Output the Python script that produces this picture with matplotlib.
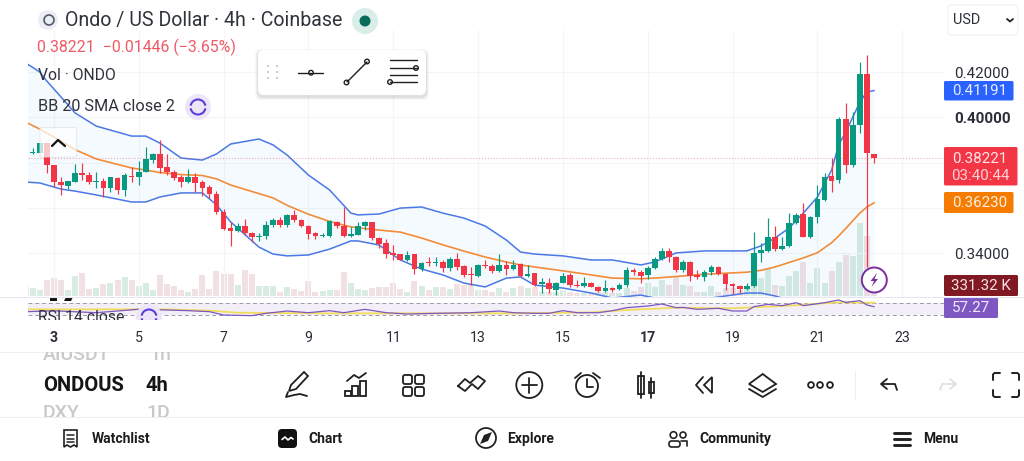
import numpy as np
import matplotlib
matplotlib.use("Agg")
import matplotlib.pyplot as plt
from matplotlib.patches import Circle, Rectangle, FancyBboxPatch, Polygon, Arc

plt.rcParams['font.family'] = ['Roboto', 'DejaVu Sans']

# candle data, 4h bars
opens = [.3915,.3842,.3845,.3886,.3789,.3715,.3699,.3714,.3756,.3748,
         .3717,.3720,.3690,.3731,.3680,.3742,.3736,.3761,.3812,.3837,
         .3780,.3761,.3736,.3714,.3739,.3714,.3692,.3664,.3584,.3511,
         .3497,.3522,.3492,.3474,.3477,.3524,.3547,.3524,.3571,.3546,
         .3520,.3489,.3477,.3477,.3540,.3521,.3475,.3481,.3522,.3537,
         .3467,.3444,.3400,.3397,.3369,.3396,.3330,.3362,.3356,.3361,
         .3336,.3375,.3343,.3308,.3302,.3349,.3344,.3322,.3349,.3331,
         .3352,.3300,.3312,.3266,.3271,.3238,.3271,.3305,.3260,.3258,
         .3268,.3253,.3234,.3247,.3243,.3260,.3327,.3319,.3303,.3336,
         .3377,.3412,.3384,.3327,.3363,.3306,.3294,.3316,.3341,.3309,
         .3265,.3256,.3244,.3258,.3403,.3412,.3472,.3418,.3431,.3534,
         .3572,.3472,.3559,.3636,.3742,.3723,.3993,.3790,.3968,.4194,.3840]
closes = [.3845,.3848,.3889,.3790,.3714,.3701,.3718,.3754,.3746,.3714,
          .3720,.3690,.3736,.3680,.3746,.3736,.3761,.3815,.3837,.3776,
          .3758,.3734,.3714,.3736,.3712,.3689,.3664,.3584,.3506,.3497,
          .3522,.3489,.3471,.3478,.3525,.3547,.3524,.3570,.3547,.3520,
          .3487,.3478,.3481,.3543,.3521,.3477,.3484,.3522,.3537,.3467,
          .3442,.3397,.3394,.3372,.3394,.3330,.3358,.3359,.3361,.3336,
          .3375,.3341,.3303,.3305,.3347,.3344,.3322,.3350,.3331,.3350,
          .3299,.3308,.3262,.3272,.3243,.3269,.3302,.3259,.3258,.3268,
          .3253,.3235,.3247,.3240,.3259,.3325,.3318,.3302,.3336,.3377,
          .3412,.3384,.3327,.3363,.3300,.3294,.3316,.3340,.3308,.3265,
          .3258,.3244,.3258,.3400,.3414,.3472,.3418,.3433,.3534,.3571,
          .3474,.3559,.3640,.3739,.3718,.3993,.3790,.3967,.4191,.3842,.3821]
highs = [.3915,.3864,.3889,.3886,.3789,.3736,.3718,.3793,.3801,.3761,
         .3758,.3731,.3739,.3736,.3754,.3783,.3809,.3871,.3845,.3901,
         .3837,.3768,.3746,.3771,.3754,.3724,.3702,.3676,.3595,.3540,
         .3533,.3552,.3496,.3489,.3543,.3555,.3559,.3574,.3592,.3553,
         .3525,.3496,.3492,.3547,.3545,.3606,.3518,.3537,.3545,.3540,
         .3474,.3462,.3437,.3397,.3412,.3397,.3364,.3383,.3386,.3371,
         .3386,.3403,.3349,.3338,.3353,.3371,.3353,.3397,.3366,.3371,
         .3356,.3349,.3315,.3293,.3290,.3275,.3312,.3312,.3283,.3294,
         .3275,.3258,.3283,.3253,.3268,.3339,.3334,.3327,.3344,.3383,
         .3422,.3422,.3389,.3371,.3368,.3327,.3327,.3349,.3344,.3312,
         .3268,.3259,.3268,.3494,.3444,.3555,.3521,.3474,.3577,.3577,
         .3624,.3565,.3702,.3753,.3820,.4001,.4063,.4026,.4247,.4276,.3840]
lows = [.3845,.3837,.3845,.3754,.3695,.3659,.3683,.3714,.3724,.3706,
        .3687,.3651,.3673,.3662,.3653,.3717,.3702,.3761,.3798,.3756,
        .3746,.3724,.3695,.3709,.3673,.3653,.3643,.3574,.3503,.3433,
        .3494,.3481,.3452,.3456,.3462,.3515,.3518,.3518,.3540,.3515,
        .3462,.3462,.3471,.3474,.3511,.3471,.3471,.3481,.3503,.3459,
        .3422,.3378,.3371,.3371,.3366,.3309,.3324,.3344,.3344,.3319,
        .3324,.3327,.3297,.3260,.3297,.3334,.3315,.3319,.3305,.3327,
        .3294,.3294,.3258,.3227,.3224,.3216,.3268,.3253,.3253,.3253,
        .3250,.3231,.3231,.3231,.3238,.3253,.3305,.3268,.3286,.3330,
        .3371,.3363,.3319,.3319,.3280,.3288,.3280,.3305,.3303,.3238,
        .3221,.3224,.3238,.3253,.3363,.3408,.3412,.3415,.3427,.3530,
        .3471,.3468,.3533,.3633,.3673,.3712,.3753,.3783,.3930,.3341,.3801]
# volume in thousands
volumes = [286,254,180,519,583,498,201,625,742,233,
           265,392,424,498,604,498,318,424,180,657,
           371,318,201,117,212,657,233,784,689,710,
           360,837,710,318,318,307,127,286,233,148,
           477,127,148,201,201,753,403,212,191,265,
           297,297,403,212,138,488,318,191,276,276,
           212,382,350,350,191,191,138,244,138,244,
           318,244,276,138,138,138,191,138,85,85,
           85,138,138,106,106,244,170,297,403,297,
           509,350,594,350,318,138,138,318,138,244,
           244,191,244,318,562,880,350,318,636,806,
           1092,403,901,424,806,1092,1304,1272,2332,1908,331]

# bollinger bands at some of the bars
band_idx = [0,2,3,5,7,10,15,17,19,22,25,27,29,33,35,37,40,43,46,47,50,53,56,59,
            62,65,68,70,72,76,80,83,87,89,92,96,102,104,106,108,110,112,114,115,116,118,119,120]
bb_upper = [.4241,.4201,.4161,.4091,.4020,.3962,.3918,.3918,.3887,.3821,.3812,.3839,
            .3883,.3905,.3879,.3834,.3746,.3680,.3578,.3570,.3574,.3600,.3605,.3578,
            .3556,.3521,.3459,.3406,.3397,.3389,.3371,.3371,.3349,.3362,.3402,.3411,
            .3411,.3433,.3468,.3512,.3578,.3649,.3768,.3879,.3936,.4068,.4113,.4119]
bb_basis = [.3980,.3949,.3931,.3896,.3858,.3817,.3777,.3768,.3757,.3748,.3744,.3729,
            .3702,.3664,.3645,.3612,.3573,.3541,.3517,.3513,.3503,.3494,.3468,.3438,
            .3410,.3384,.3362,.3349,.3340,.3323,.3305,.3291,.3288,.3291,.3298,.3308,
            .3317,.3325,.3340,.3360,.3380,.3403,.3447,.3477,.3510,.3578,.3605,.3623]
bb_lower = [.3715,.3711,.3702,.3684,.3675,.3658,.3627,.3627,.3649,.3667,.3667,.3614,
            .3539,.3428,.3397,.3389,.3393,.3419,.3455,.3455,.3437,.3371,.3331,.3305,
            .3269,.3252,.3291,.3296,.3260,.3247,.3225,.3203,.3216,.3203,.3194,.3199,
            .3225,.3225,.3212,.3194,.3177,.3157,.3126,.3075,.3084,.3088,.3097,.3127]

rsi_idx = [0,4,10,16,20,23,26,28,32,34,37,40,43,45,48,51,54,58,63,67,69,72,74,76,78,81,
           83,85,88,90,92,93,95,98,100,102,103,105,107,109,110,113,115,116,118,119,120]
rsi_vals = [41.3,44,38,49,46.6,44.5,41.3,30.6,28.5,36,43.4,38,44.5,38,48.7,38,33.8,36,38,43.4,38,36,36,
            44.5,38,38,44.5,54,59.4,65.8,54,55,48.7,52,43.4,43.4,57.3,64.7,60.5,70,60.5,70,78.6,71.1,76.5,62.6,57.27]
rsi_ma_idx = [0,20,26,30,42,58,69,80,85,92,100,108,115,120]
rsi_ma_vals = [48.7,48.7,44.5,38,36,36,36,39,46.6,54,52,60.5,71.1,70]

price_ticks = [0.34, 0.36, 0.38, 0.40, 0.42]
price_labels = ['0.34000', '', '', '0.40000', '0.42000']
day_tick_idx = [4, 16, 28, 40, 52, 64, 76, 88, 100, 112, 124]
day_labels = ['3', '5', '7', '9', '11', '13', '15', '17', '19', '21', '23']

GREEN = '#089981'
RED = '#f23645'
BLUE = '#4a78e6'
ORANGE = '#f28c38'
INK = '#2a2e39'

W, H = 1024, 461
fig = plt.figure(figsize=(W / 100, H / 100), dpi=100, facecolor='white')


def rect(x0, y0, x1, y1):
    # pixel box (y down) to figure fractions
    return [x0 / W, 1 - y1 / H, (x1 - x0) / W, (y1 - y0) / H]


# price pane
ax = fig.add_axes(rect(28, 30, 945, 297))
vol = ax.twinx()
ax.set_zorder(vol.get_zorder() + 1)
ax.patch.set_visible(False)

idx = np.arange(len(opens))
o, c = np.array(opens), np.array(closes)
colors = np.where(c >= o, GREEN, RED)

vol.bar(idx, volumes, width=0.85, color=np.where(c >= o, '#c9e4d6', '#edd5d7'), alpha=0.7)
vol.set_ylim(-32, 8459)
vol.set_yticks([])

ax.fill_between(band_idx, bb_lower, bb_upper, color='#2196f3', alpha=0.045, lw=0)
ax.plot(band_idx, bb_upper, color=BLUE, lw=1.1)
ax.plot(band_idx, bb_lower, color=BLUE, lw=1.1)
ax.plot(band_idx, bb_basis, color=ORANGE, lw=1.2)
ax.axhline(0.38221, color=RED, lw=0.8, ls=':', alpha=0.4)

ax.vlines(idx, lows, highs, colors=colors, lw=0.85, zorder=3)
ax.bar(idx, np.maximum(np.abs(c - o), 0.0003), bottom=np.minimum(o, c), width=0.8,
       color=colors, lw=0, zorder=4)

ax.set_xlim(0.34, 130.04)
ax.set_ylim(0.32075, 0.43863)
ax.set_xticks(day_tick_idx)
ax.set_xticklabels([])
ax.yaxis.tick_right()
ax.set_yticks(price_ticks)
ax.set_yticklabels(price_labels, fontsize=10.9, color=INK)
ax.get_yticklabels()[3].set_fontweight('bold')
ax.tick_params(length=0, pad=6.5)
ax.grid(True, color='#f5f5f7', lw=0.8)
ax.set_axisbelow(True)
for a in (ax, vol):
    for s in a.spines.values():
        s.set_visible(False)

# rsi pane, 70 sits at y=302.7 and 30 at y=315, 0.3125 px per point
rsi = fig.add_axes(rect(28, 297, 945, 322))
rsi.set_xlim(0.34, 130.04)
rsi.set_ylim(70 - (322 - 302.7) / 0.3125, 70 + (302.7 - 297) / 0.3125)
rsi.axhspan(30, 70, color='#7e57c2', alpha=0.09, lw=0)
rsi.axhline(70, color='#9a9aa8', lw=0.7, ls=(0, (4, 3)))
rsi.axhline(30, color='#9a9aa8', lw=0.7, ls=(0, (4, 3)))
rsi.plot(rsi_ma_idx, rsi_ma_vals, color='#f2dc5d', lw=1.3)
rsi.plot(rsi_idx, rsi_vals, color='#7e57c2', lw=0.9)
rsi.set_xticks(day_tick_idx)
rsi.set_xticklabels(day_labels, fontsize=10.2, color=INK)
for i in (0, 7):
    rsi.get_xticklabels()[i].set_fontweight('bold')
rsi.set_yticks([])
rsi.tick_params(length=0, pad=6.5)
rsi.patch.set_visible(False)
for s in rsi.spines.values():
    s.set_visible(False)

# everything that is app chrome goes on a pixel overlay
ui = fig.add_axes([0, 0, 1, 1], zorder=10)
ui.set_xlim(0, W)
ui.set_ylim(H, 0)
ui.axis('off')


def line(xs, ys, color='#1f1f1f', lw=1.3, **kw):
    ui.plot(xs, ys, color=color, lw=lw, solid_capstyle='round', **kw)


def ring(x, y, r, ec='#1f1f1f', fc='white', lw=1.3):
    ui.add_patch(Circle((x, y), r, ec=ec, fc=fc, lw=lw))


def box(x0, y0, x1, y1, fc, ec='none', pad=2, lw=0.8, **kw):
    ui.add_patch(FancyBboxPatch((x0 + pad, y0 + pad), x1 - x0 - 2 * pad, y1 - y0 - 2 * pad,
                                boxstyle=f'round,pad={pad}', fc=fc, ec=ec, lw=lw, **kw))


def sync_icon(x, y, col='#5b3fd6', clip=None):
    bg = Circle((x, y), 13, fc='#ece6f8', ec='none')
    ui.add_patch(bg)
    a1 = Arc((x, y), 15, 15, theta1=190, theta2=350, color=col, lw=1.5)
    a2 = Arc((x, y), 15, 15, theta1=10, theta2=170, color=col, lw=1.5)
    ui.add_patch(a1)
    ui.add_patch(a2)
    if clip is not None:
        for p in (bg, a1, a2):
            p.set_clip_path(clip)


def clipped_text(x, y, s, x_max, box_y0, box_y1, **kw):
    t = ui.text(x, y, s, va='center', clip_on=True, **kw)
    t.set_clip_path(Rectangle((0, box_y0), x_max, box_y1 - box_y0, transform=ui.transData))
    return t


# header
ring(48, 20, 10, ec='none', fc='#eceef5')
ring(49, 20, 5, ec='#555a66', fc='none', lw=1.2)
ui.text(65, 20.5, 'Ondo / US Dollar · 4h · Coinbase', fontsize=14.1, color='#30333b', va='center')
ring(365, 21, 13, ec='none', fc='#d9eee9')
ring(365, 21, 5.5, ec='none', fc='#0b6b5b')
ui.text(37, 47.5, '0.38221  −0.01446 (−3.65%)', fontsize=11.4, color='#ef5a66', va='center')
ui.text(38, 75, 'Vol · ONDO', fontsize=11.3, color='#2f3239', va='center')
ui.text(38, 106.5, 'BB 20 SMA close 2', fontsize=11.7, color='#2f3239', va='center')
sync_icon(198, 107)

# floating drawing toolbar with a soft shadow
for grow, shade in ((3, 0.03), (2, 0.04), (1, 0.05)):
    box(258 - grow, 50 - grow + 2, 426 + grow, 95 + grow + 2, 'black', pad=6, alpha=shade)
box(258, 50, 426, 95, 'white', pad=6)
for dx in (268, 277):
    for dy in (66, 72, 78):
        ring(dx, dy, 1.1, ec='none', fc='#c9c9ce')
line([298, 323], [72.7, 72.7], lw=1.0)
ring(311, 72.7, 2.3, lw=1.0)
line([347, 367], [82, 62], lw=1.0)
ring(346.5, 82.5, 2.3, lw=1.0)
ring(367, 61.5, 2.3, lw=1.0)
for ly in (60.5, 68, 75, 82):
    line([390, 417], [ly, ly], lw=1.0)
ring(416, 68, 2.3, lw=1.0)
ring(390, 82, 2.3, lw=1.0)

# collapse button over the candles
box(40, 127.5, 76.5, 157, 'white', ec='#e4e4e8', pad=1, alpha=0.72)
line([52, 58, 65], [146, 140, 146], color='#111111', lw=1.6)

# USD selector
box(948, 5, 1018, 35, 'white', ec='#f0f0f2', pad=4)
ui.text(952.5, 19.5, 'USD', fontsize=10.4, color=INK, va='center')
line([1007, 1010, 1013], [19, 21.5, 19], color='#222222', lw=1.3)

# price labels on the axis
box(944, 81, 1013.5, 100.5, '#2962ff', pad=1.5)
ui.text(980, 91, '0.41191', fontsize=10.9, color='#e6ecff', ha='center', va='center')
box(944, 147, 1017.5, 185.5, '#f23645', pad=1.5)
ui.text(980, 158.5, '0.38221', fontsize=10.9, color='#ffe6e8', ha='center', va='center')
ui.text(980, 175.5, '03:40:44', fontsize=10.9, color='#ffd0d4', ha='center', va='center')
box(944, 192, 1013.5, 213, '#f57c00', pad=1.5)
ui.text(980, 203, '0.36230', fontsize=10.9, color='#fff0e0', ha='center', va='center')
box(944, 275, 1018, 296, '#801922', pad=1.5)
ui.text(981, 286, '331.32 K', fontsize=10.9, color='#f5e3e4', ha='center', va='center')
box(944, 297.5, 998, 318, '#7e57c2', pad=1.5)
ui.text(971, 308, '57.27', fontsize=10.9, color='#f0ebfa', ha='center', va='center')

# lightning badge
ring(874.3, 280, 12.5, ec='#7b2d9e', fc='white', lw=1.4)
ui.add_patch(Polygon([(877, 273), (870.5, 281), (874, 281), (871.5, 287), (878, 279), (874.5, 279)],
                     fc='#7b2d9e', ec='none'))

# cut off legend row of the rsi pane
ui.add_patch(Rectangle((50, 297), 7, 4, fc='#111111', ec='none'))
ui.add_patch(Polygon([(66, 297), (73, 297), (71, 301), (64, 301)], fc='#111111', ec='none'))
clip_rsi = Rectangle((0, 297), W, 23, transform=ui.transData)
clipped_text(38, 317, 'RSI 14 close', W, 297, 320, fontsize=11.3, color='#2f3239')
sync_icon(149, 317, clip=clip_rsi)

# separators
line([0, W], [296.8, 296.8], color='#e8e6f0', lw=0.8)
line([0, W], [352, 352], color='#efefef', lw=0.8)
line([0, W], [416.8, 416.8], color='#efefef', lw=0.8)
line([855, 855], [371, 400], color='#efefef', lw=0.8)

# symbol and interval pickers
clipped_text(43, 355, 'AIUSDT', W, 352, 363, fontsize=14, color='#c9c9cc', fontweight='medium')
clipped_text(149, 355, '1h', W, 352, 363, fontsize=14, color='#c9c9cc', fontweight='medium')
clipped_text(43, 385, 'ONDOUS', 125, 360, 410, fontsize=14.5, color='#151515', fontweight='bold')
ui.text(146, 385, '4h', fontsize=14.5, color='#151515', fontweight='bold', va='center')
clipped_text(43, 413, 'DXY', W, 403, 417, fontsize=14, color='#c9c9cc', fontweight='medium')
clipped_text(146, 413, '1D', W, 403, 417, fontsize=14, color='#c9c9cc', fontweight='medium')

# bottom toolbar icons, left to right
ui.add_patch(Polygon([(304, 372), (308, 376), (296, 389), (289, 391), (291, 385)], fc='white', ec='#1f1f1f', lw=1.3))
line([288, 286, 294, 300, 307], [392, 397, 395, 394, 396])
for bx, by in ((345, 391), (352, 386), (360, 381)):
    ui.add_patch(Rectangle((bx, by), 6, 396 - by, fc='white', ec='#1f1f1f', lw=1.3))
line([347, 354, 359, 366], [381, 375, 378, 373])
for gx in (403, 415):
    for gy in (375, 387):
        box(gx, gy, gx + 9, gy + 9, 'white', ec='#1f1f1f', pad=2, lw=1.3)
line([458, 465, 470, 478, 485, 478, 472, 465, 458], [386, 379, 383, 376, 381, 389, 384, 391, 386])
ring(529.3, 385, 13)
line([522, 537], [385, 385])
line([529.3, 529.3], [377.5, 392.5])
ring(587, 386, 11)
line([587, 587, 593], [379, 387, 387])
line([575, 581], [378, 373])
line([593, 600], [373, 378])
line([641, 641], [372, 398])
ui.add_patch(Rectangle((638, 376), 6, 18, fc='white', ec='#1f1f1f', lw=1.3))
line([651, 651], [378, 398])
ui.add_patch(Rectangle((648.5, 382), 5, 11, fc='white', ec='#1f1f1f', lw=1.3))
line([703, 696, 703], [377, 385, 393])
ui.add_patch(Polygon([(712, 377), (704, 385), (712, 393)], fc='white', ec='#1f1f1f', lw=1.3))
ui.add_patch(Polygon([(749, 384), (762.7, 374), (776, 384), (762.7, 392)], fc='white', ec='#1f1f1f', lw=1.3))
line([749, 762.7, 776], [389, 397, 389])
for dx in (811, 820, 830):
    ring(dx, 385, 2.9)
line([897, 895, 882], [390, 384, 384])
line([887, 881, 887], [379, 384, 389])
line([940, 942, 955], [390, 384, 384], color='#e0e0e0')
line([950, 956, 950], [379, 384, 389], color='#e0e0e0')
for cx, cy, sx, sy in ((993, 373, 1, 1), (1019, 373, -1, 1), (993, 397, 1, -1), (1019, 397, -1, -1)):
    line([cx + sx * 7, cx + sx * 1.5, cx, cx], [cy, cy, cy + sy * 1.5, cy + sy * 7], lw=1.4)

# bottom navigation
ui.add_patch(Polygon([(64, 430), (77, 430), (77, 447), (74, 445), (70.5, 447), (67, 445), (64, 447)],
                     fc='white', ec='#222222', lw=1.2))
for ly in (434.5, 438.5, 442):
    line([67, 74], [ly, ly], color='#222222', lw=1.1)
box(278, 429, 297, 448, '#111111', pad=4)
line([282, 285, 288, 291, 293], [439.5, 437, 440, 437.5, 439], color='white', lw=1.2)
ring(486, 438, 10, ec='#222222', lw=1.3)
ui.add_patch(Polygon([(492, 432), (488, 441), (480, 444), (484, 435)], fc='#222222', ec='none'))
ring(673.5, 435, 3.3, ec='#222222', lw=1.2)
ring(683, 435, 3, ec='#222222', lw=1.2)
box(669, 441, 680, 447, 'white', ec='#222222', pad=2.5, lw=1.2)
line([681, 687, 687], [441, 441, 446], color='#222222', lw=1.2)
for ly in (433, 439.3, 445):
    line([893.5, 909.5], [ly, ly], color='#222222', lw=2.1)
nav = [(92, 'Watchlist'), (308, 'Chart'), (507, 'Explore'), (699, 'Community'), (923, 'Menu')]
for nx, label in nav:
    ui.text(nx, 439, label, fontsize=10, fontweight='bold', color='#1c1c1c', va='center')

fig.savefig('out.png', dpi=100)
